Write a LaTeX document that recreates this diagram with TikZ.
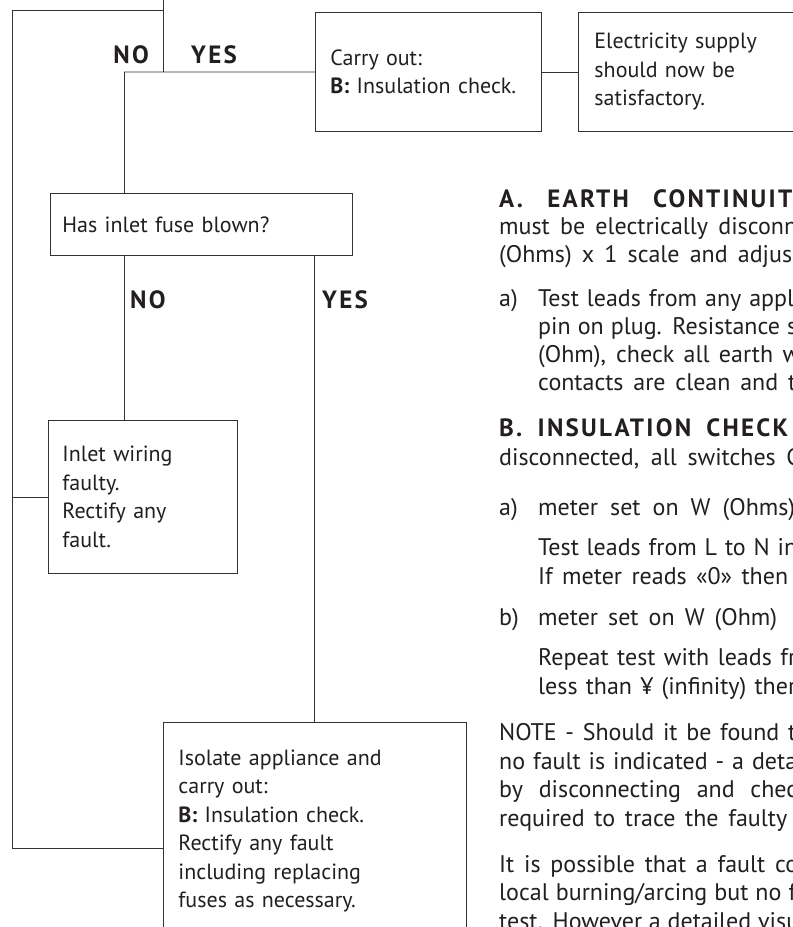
\documentclass[tikz,border=0pt]{standalone}
\usepackage{fontspec}
\setmainfont{PT Sans}
\newfontfamily\headfont[LetterSpace=9]{PT Sans}
\definecolor{txt}{HTML}{231F20}
\definecolor{linec}{HTML}{333333}
\newcommand\bodysize{\fontsize{22}{28.5}\selectfont}
\newcommand\colsize{\fontsize{24}{28.5}\selectfont}
\newcommand\Rl[5]{\node[ln] (#1) at (#2,#3) {\makebox[#4pt][s]{#5}};}
\begin{document}
\begin{tikzpicture}[x=1pt,y=-1pt,
  box/.style={draw=linec, line width=0.9pt, rectangle, align=left, anchor=north west,
    text=txt, font=\bodysize, inner ysep=0pt},
  lbl/.style={font=\headfont\bfseries\fontsize{25}{28}\selectfont, text=txt, inner sep=0pt},
  ln/.style={anchor=base west, inner sep=0pt, text=txt, font=\colsize},
  hd/.style={anchor=base west, inner sep=0pt, text=txt, font=\headfont\bfseries\fontsize{25}{28}\selectfont},
  conn/.style={draw=linec, line width=0.9pt}]
\useasboundingbox (0,0) rectangle (793,927);
\fill[white] (0,0) rectangle (793,927);
\clip (0,0) rectangle (793,927);

% boxes
\node[box, inner xsep=15pt, text width=196pt, minimum height=119pt] (carry) at (315,12)
  {Carry out:\\\textbf{B:} Insulation check.};
\node[box, inner xsep=16pt, text width=250pt, minimum height=119pt] (elec) at (578,12)
  {Electricity supply\\should now be\\satisfactory.};
\node[box, inner xsep=12pt, text width=278pt, minimum height=62pt] (has) at (50,193)
  {Has inlet fuse blown?};
\node[box, inner xsep=14pt, text width=161pt, minimum height=153pt] (inlet) at (48,420)
  {Inlet wiring\\faulty.\\Rectify any\\fault.};
\node[box, inner xsep=15pt, inner ysep=27pt, text width=273pt] (isol) at (163,722)
  {Isolate appliance and\\carry out:\\\textbf{B:} Insulation check.\\Rectify any fault\\including replacing\\fuses as necessary.};

% connector coordinates
\coordinate (topin) at (163,0);
\coordinate (split) at (163,72);
\coordinate (noturn) at (124,72);
\coordinate (yesx) at (314,255);
\coordinate (loop) at (12,10);
\coordinate (ret) at (12,848);

\draw[conn] (topin) -- (split);
\draw[conn] (noturn) -- (carry.west);
\draw[conn] (noturn) -- (noturn |- has.north);
\draw[conn] (carry.east) -- (elec.west);
\draw[conn] (has.south -| noturn) -- (inlet.north -| noturn);
\draw[conn] (has.south -| yesx) -- (isol.north -| yesx);
\draw[conn] (isol.west |- ret) -- (ret) -- (loop) -- (loop -| topin);
\draw[conn] (inlet.west) -- (inlet.west -| loop);

% NO / YES labels
\node[lbl, anchor=base east] (no1) at (149,63) {NO};
\node[lbl, anchor=base west] (yes1) at (191,63) {YES};
\node[lbl, anchor=base west] (no2) at (130,308) {NO};
\node[lbl, anchor=base west] (yes2) at (322,308) {YES};

% right column text
\node[hd] (h1) at (499,207) {\makebox[293pt][s]{A. EARTH CONTINUIT}};
\Rl{l2}{499}{234}{298}{must be electrically disconn}
\Rl{l3}{499}{262}{293}{(Ohms) x 1 scale and adjus}
\node[ln] (ia) at (499,306) {a)};
\Rl{l4}{538}{306}{256}{Test leads from any appl}
\Rl{l5}{538}{334}{259}{pin on plug. Resistance s}
\Rl{l6}{538}{362}{262}{(Ohm), check all earth w}
\Rl{l7}{538}{390}{258}{contacts are clean and t}
\node[hd] (h2) at (499,436) {\makebox[289pt][s]{B. INSULATION CHECK}};
\Rl{l9}{499}{465}{301}{disconnected, all switches C}
\node[ln] (ib) at (499,515) {a)};
\Rl{l10}{538}{515}{257}{meter set on W (Ohms)}
\Rl{l11}{538}{555}{259}{Test leads from L to N in}
\Rl{l12}{538}{584}{250}{If meter reads «0» then}
\node[ln] (ic) at (499,625) {b)};
\Rl{l13}{538}{625}{239}{meter set on W (Ohm)}
\Rl{l14}{538}{665}{258}{Repeat test with leads fr}
\Rl{l15}{538}{694}{258}{less than ¥ (infinity) ther}
\Rl{l16}{499}{740}{297}{NOTE - Should it be found t}
\Rl{l17}{499}{769}{298}{no fault is indicated - a deta}
\Rl{l18}{499}{797}{298}{by disconnecting and chec}
\Rl{l19}{499}{826}{288}{required to trace the faulty}
\Rl{l20}{499}{872}{299}{It is possible that a fault co}
\Rl{l21}{499}{900}{297}{local burning/arcing but no f}
\Rl{l22}{499}{929}{300}{test. However a detailed visu}
\end{tikzpicture}
\end{document}
